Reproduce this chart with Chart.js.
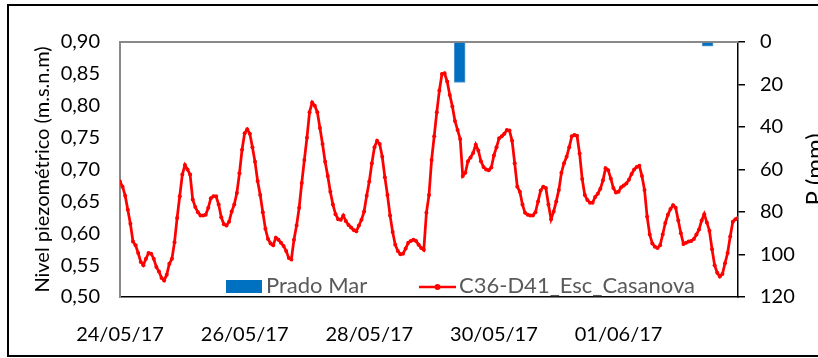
<!DOCTYPE html>
<html>
<head>
<meta charset="utf-8">
<script src="https://cdn.jsdelivr.net/npm/chart.js@4.4.1/dist/chart.umd.min.js"></script>
<style>
    html, body { margin: 0; padding: 0; background: #fff; overflow: hidden; }
    #wrap { position: relative; width: 818px; height: 358px; }
    #frame { position: absolute; left: 7px; top: 4px; width: 840px; height: 353px; border: 2px solid #000; box-sizing: border-box; pointer-events: none; }
    canvas { position: absolute; left: 0; top: 0; }
</style>
</head>
<body>
<div id="wrap">
    <canvas id="chartLevel" width="818" height="358"></canvas>
    <div id="frame"></div>
</div>
<script>
// hourly piezometric level (m.s.n.m), starting 24/05/17 00:00
const levelC36 = [
    0.681, 0.673, 0.659, 0.637, 0.615, 0.587, 0.581, 0.569, 0.555, 0.550,
    0.560, 0.569, 0.568, 0.560, 0.547, 0.540, 0.530, 0.526, 0.535, 0.552,
    0.560, 0.586, 0.624, 0.658, 0.692, 0.707, 0.700, 0.692, 0.653, 0.641,
    0.633, 0.628, 0.628, 0.629, 0.640, 0.655, 0.658, 0.658, 0.645, 0.625,
    0.614, 0.612, 0.618, 0.634, 0.645, 0.663, 0.694, 0.731, 0.757, 0.763,
    0.756, 0.735, 0.712, 0.682, 0.660, 0.633, 0.607, 0.591, 0.584, 0.581,
    0.593, 0.590, 0.585, 0.580, 0.572, 0.561, 0.559, 0.590, 0.612, 0.640,
    0.679, 0.715, 0.750, 0.790, 0.805, 0.800, 0.790, 0.765, 0.740, 0.712,
    0.690, 0.665, 0.645, 0.630, 0.622, 0.621, 0.628, 0.619, 0.613, 0.609,
    0.605, 0.603, 0.612, 0.621, 0.634, 0.659, 0.681, 0.710, 0.735, 0.745,
    0.740, 0.720, 0.688, 0.660, 0.628, 0.602, 0.582, 0.572, 0.567, 0.568,
    0.576, 0.585, 0.588, 0.590, 0.588, 0.582, 0.577, 0.574, 0.632, 0.660,
    0.715, 0.752, 0.790, 0.824, 0.850, 0.851, 0.838, 0.817, 0.799, 0.776,
    0.762, 0.748, 0.690, 0.695, 0.713, 0.719, 0.726, 0.739, 0.730, 0.713,
    0.704, 0.700, 0.699, 0.703, 0.722, 0.735, 0.749, 0.752, 0.756, 0.762,
    0.761, 0.745, 0.710, 0.673, 0.665, 0.645, 0.632, 0.629, 0.628, 0.628,
    0.633, 0.650, 0.667, 0.673, 0.671, 0.645, 0.622, 0.634, 0.650, 0.668,
    0.695, 0.710, 0.720, 0.735, 0.752, 0.754, 0.753, 0.725, 0.685, 0.660,
    0.652, 0.648, 0.648, 0.657, 0.662, 0.670, 0.683, 0.702, 0.699, 0.686,
    0.671, 0.664, 0.665, 0.672, 0.675, 0.678, 0.684, 0.693, 0.700, 0.704,
    0.706, 0.690, 0.668, 0.626, 0.598, 0.584, 0.579, 0.577, 0.581, 0.598,
    0.616, 0.629, 0.638, 0.644, 0.640, 0.620, 0.600, 0.583, 0.585, 0.587,
    0.588, 0.591, 0.598, 0.606, 0.620, 0.630, 0.617, 0.604, 0.575, 0.550,
    0.538, 0.532, 0.536, 0.553, 0.569, 0.595, 0.618, 0.622, 0.624
];

// rainfall at Prado Mar: hour since start and amount (mm)
const rainHours = [130.8, 226.3];
const rainPradoMar = [19, 2];

const dateTickHours = [0, 48, 96, 144, 192];
const dateTickLabels = ["24/05/17", "26/05/17", "28/05/17", "30/05/17", "01/06/17"];

const FONT = { family: "Lato", size: 20 };

function el(id) {
    return document.getElementById(id);
}

// top edge of the plot area, the right axis title and the in-plot legend
const chartDecor = {
    id: "chartDecor",
    beforeDatasetsDraw(chart) {
        const { ctx, chartArea: a } = chart;
        ctx.save();
        ctx.strokeStyle = "#898989";
        ctx.lineWidth = 2;
        ctx.beginPath();
        ctx.moveTo(a.left, a.top);
        ctx.lineTo(a.right, a.top);
        ctx.stroke();
        ctx.restore();
    },
    afterDraw(chart) {
        const { ctx, chartArea: a } = chart;
        const [line, bars] = chart.data.datasets;
        ctx.save();

        ctx.font = `24px ${FONT.family}`;
        ctx.fillStyle = "#000";
        ctx.translate(815, (a.top + a.bottom) / 2);
        ctx.rotate(-Math.PI / 2);
        ctx.textAlign = "center";
        ctx.textBaseline = "middle";
        ctx.fillText("P (mm)", 0, 0);
        ctx.setTransform(1, 0, 0, 1, 0, 0);

        ctx.font = `22px ${FONT.family}`;
        const base = a.bottom - 4;
        ctx.fillStyle = bars.backgroundColor;
        ctx.fillRect(a.left + 106, base - 13, 36, 13);
        ctx.fillStyle = "#595959";
        ctx.textAlign = "left";
        ctx.textBaseline = "alphabetic";
        ctx.fillText(bars.label, a.left + 146, base);

        const midY = base - 6;
        ctx.strokeStyle = line.borderColor;
        ctx.lineWidth = 2.5;
        ctx.beginPath();
        ctx.moveTo(a.left + 299, midY);
        ctx.lineTo(a.left + 336, midY);
        ctx.stroke();
        ctx.fillStyle = line.borderColor;
        ctx.beginPath();
        ctx.arc(a.left + 317.5, midY, 3, 0, Math.PI * 2);
        ctx.fill();
        ctx.fillStyle = "#595959";
        ctx.fillText(line.label, a.left + 339, base);

        ctx.restore();
    }
};

function drawChart() {
    new Chart(el("chartLevel"), {
        type: "bar",
        data: {
            datasets: [{
                type: "line",
                label: "C36-D41_Esc_Casanova",
                data: levelC36.map((v, i) => ({ x: i, y: v })),
                yAxisID: "y",
                borderColor: "#ff0000",
                backgroundColor: "#ff0000",
                borderWidth: 2.75,
                pointRadius: 2,
                pointBorderWidth: 0,
                pointBackgroundColor: "#ff0000",
                tension: 0,
                order: 1
            }, {
                type: "bar",
                label: "Prado Mar",
                data: rainHours.map((h, i) => ({ x: h, y: rainPradoMar[i] })),
                yAxisID: "y2",
                backgroundColor: "#0070c0",
                borderColor: "#5b9bd5",
                borderWidth: 1,
                barThickness: 11,
                order: 2
            }]
        },
        options: {
            responsive: false,
            animation: false,
            layout: { padding: { top: 42 } },
            plugins: {
                legend: { display: false },
                tooltip: { enabled: false }
            },
            scales: {
                x: {
                    type: "linear",
                    min: 0,
                    max: levelC36.length - 1,
                    offset: false,
                    grid: { display: false, drawTicks: false },
                    border: { display: true, color: "#000", width: 1.5 },
                    afterBuildTicks: s => { s.ticks = dateTickHours.map(v => ({ value: v })); },
                    afterFit: s => { s.height = 61; },
                    ticks: {
                        callback: (v, i) => dateTickLabels[i],
                        font: FONT,
                        color: "#000",
                        padding: 26,
                        maxRotation: 0,
                        autoSkip: false
                    }
                },
                y: {
                    position: "left",
                    min: 0.5,
                    max: 0.9,
                    grid: { display: false, drawTicks: false },
                    border: { display: true, color: "#898989", width: 2 },
                    afterFit: s => { s.width = 120; },
                    ticks: {
                        stepSize: 0.05,
                        callback: v => v.toFixed(2).replace(".", ","),
                        font: FONT,
                        color: "#000",
                        padding: 20
                    },
                    title: {
                        display: true,
                        text: "Nivel piezométrico (m.s.n.m)",
                        font: FONT,
                        color: "#000",
                        padding: { top: 31, bottom: 0 }
                    }
                },
                y2: {
                    position: "right",
                    reverse: true,
                    min: 0,
                    max: 120,
                    grid: { drawOnChartArea: false, drawTicks: true, tickLength: 7, color: "#000", lineWidth: 1.5 },
                    border: { display: true, color: "#000", width: 1.5 },
                    afterFit: s => { s.width = 80; },
                    ticks: {
                        stepSize: 20,
                        font: FONT,
                        color: "#000",
                        padding: 15
                    }
                }
            }
        },
        plugins: [chartDecor]
    });
}

document.fonts.load(`${FONT.size}px ${FONT.family}`).then(drawChart, drawChart);
</script>
</body>
</html>
